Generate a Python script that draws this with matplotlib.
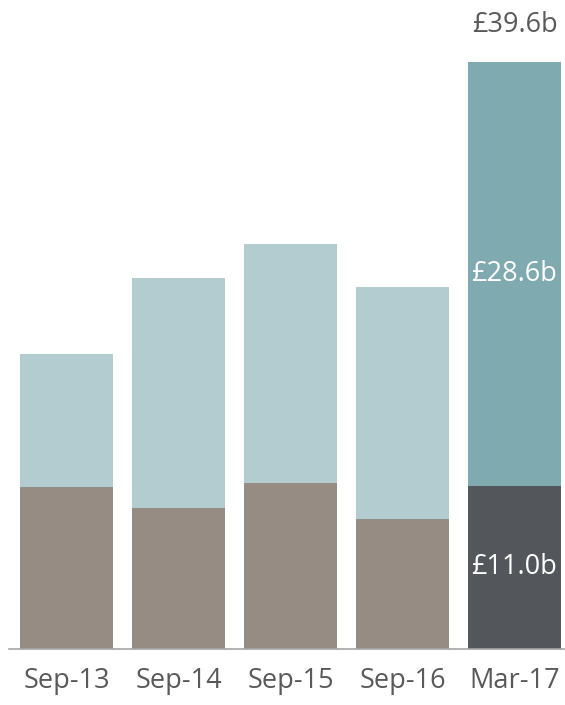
import numpy as np
import matplotlib.pyplot as plt

plt.rcParams['font.family'] = ['Open Sans', 'DejaVu Sans']

# valores (miles de millones de libras)
periodos = ['Sep-13', 'Sep-14', 'Sep-15', 'Sep-16', 'Mar-17']
base = [10.9, 9.5, 11.2, 8.8, 11.0]
total = [19.9, 25.0, 27.3, 24.4, 39.6]
superior = [t - b for t, b in zip(total, base)]

color_base = ['#978C83'] * 4 + ['#53575C']
color_sup = ['#B3CCCF'] * 4 + ['#7FAAAF']
texto = '#595959'

fig = plt.figure(figsize=(5.65, 7.05), dpi=100)
ax = fig.add_axes([9 / 565, 1 - 649 / 705, 556 / 565, 649 / 705])

x = np.arange(len(periodos))
ax.bar(x, base, width=0.83, color=color_base)
ax.bar(x, superior, bottom=base, width=0.83, color=color_sup)

# etiquetas de Mar-17
ax.text(x[-1], total[-1] + 2.5, '£%.1fb' % total[-1], ha='center', va='center',
        color=texto, fontsize=19.5)
ax.text(x[-1], base[-1] + superior[-1] * 0.5, '£%.1fb' % superior[-1], ha='center',
        va='center', color='white', fontsize=19.5)
ax.text(x[-1], base[-1] * 0.5, '£%.1fb' % base[-1], ha='center', va='center',
        color='white', fontsize=19.5)

ax.set_xlim((9 - 66.5) / 112, (565 - 66.5) / 112)
ax.set_ylim(0, 649 / 14.82)
ax.set_xticks(x)
ax.set_xticklabels(periodos, fontsize=19.5, color=texto)
ax.tick_params(axis='x', length=0, pad=13)
ax.set_yticks([])
for s in ['top', 'right', 'left']:
    ax.spines[s].set_visible(False)
ax.spines['bottom'].set_color('#A6A6A6')
ax.spines['bottom'].set_linewidth(1.2)

fig.savefig('out.png', dpi=100)
